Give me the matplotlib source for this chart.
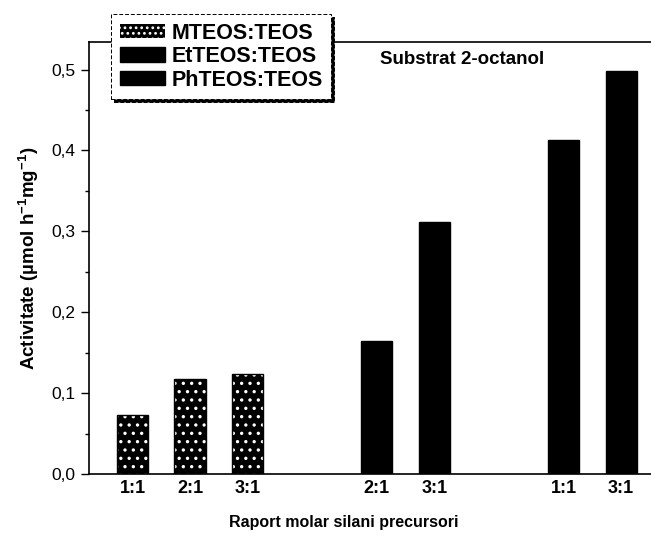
import matplotlib
matplotlib.use("Agg")
import matplotlib.pyplot as plt
from matplotlib.patches import Patch
from matplotlib.ticker import MultipleLocator, FuncFormatter

plt.rcParams["font.family"] = ["Liberation Sans", "DejaVu Sans"]
plt.rcParams["mathtext.fontset"] = "custom"
plt.rcParams["mathtext.rm"] = "Liberation Sans"
plt.rcParams["mathtext.bf"] = "Liberation Sans:bold"
plt.rcParams["mathtext.it"] = "Liberation Sans:italic"
plt.rcParams["hatch.linewidth"] = 1.2

# Activity per precursor system and silane molar ratio
mteos_ratios = ["1:1", "2:1", "3:1"]
mteos_activity = [0.073, 0.117, 0.124]

etteos_ratios = ["2:1", "3:1"]
etteos_activity = [0.165, 0.312]

phteos_ratios = ["1:1", "3:1"]
phteos_activity = [0.413, 0.498]

series_names = ["MTEOS:TEOS", "EtTEOS:TEOS", "PhTEOS:TEOS"]

groups = [
    (mteos_ratios, mteos_activity, "speckle"),
    (etteos_ratios, etteos_activity, "solid"),
    (phteos_ratios, phteos_activity, "solid"),
]

W, H = 651, 537
fig = plt.figure(figsize=(W / 100, H / 100), dpi=100)

ax_left, ax_bottom, ax_top = 89 / W, (H - 474) / H, (H - 42) / H
ax = fig.add_axes([ax_left, ax_bottom, 1.0 - ax_left, ax_top - ax_bottom])

bar_width = 0.54
group_step = 2.25  # distance between last bar of a group and first of the next

positions, labels = [], []
start = 0.0
for ratios, values, style in groups:
    xs = [start + i for i in range(len(values))]
    if style == "speckle":
        ax.bar(xs, values, width=bar_width, color="black", edgecolor="white",
               hatch="..", linewidth=0, zorder=2)
        ax.bar(xs, values, width=bar_width, fill=False, edgecolor="black",
               linewidth=1.0, zorder=3)
    else:
        ax.bar(xs, values, width=bar_width, color="black", edgecolor="black",
               linewidth=1.0, zorder=2)
    positions += xs
    labels += ratios
    start = xs[-1] + group_step

ax.set_xlim(-0.757, 9.02)
ax.set_ylim(0, 0.534)

ax.set_xticks(positions)
ax.set_xticklabels(labels, fontsize=13, fontweight="bold")
ax.tick_params(axis="x", length=0, pad=4)

ax.yaxis.set_major_locator(MultipleLocator(0.1))
ax.yaxis.set_minor_locator(MultipleLocator(0.05))
ax.yaxis.set_major_formatter(FuncFormatter(lambda v, p: f"{v:.1f}".replace(".", ",")))
ax.tick_params(axis="y", which="major", length=5.5, width=1.0, labelsize=12.5, pad=4)
ax.tick_params(axis="y", which="minor", length=3, width=1.0)

for side in ("left", "top", "bottom"):
    ax.spines[side].set_linewidth(1.2)
ax.spines["right"].set_visible(False)

ax.set_ylabel("Activitate (µmol h$^{\\mathbf{-1}}$mg$^{\\mathbf{-1}}$)",
              fontsize=13.5, fontweight="bold", labelpad=8)
fig.text(344 / W, 1 - 522 / H, "Raport molar silani precursori",
         ha="center", va="center", fontsize=11.5, fontweight="bold")

ax.text(380 / W, 1 - 60 / H, "Substrat 2-octanol", transform=fig.transFigure,
        ha="left", va="center", fontsize=13.5, fontweight="bold")

handles = [
    Patch(facecolor="black", edgecolor="white", hatch="...", linewidth=0),
    Patch(facecolor="black", edgecolor="black"),
    Patch(facecolor="black", edgecolor="black"),
]
leg = fig.legend(handles, series_names, loc="upper left",
                 bbox_to_anchor=(111 / W, 1 - 14 / H), borderaxespad=0,
                 prop={"size": 15.5, "weight": "bold"}, handlelength=2.1,
                 handleheight=0.65, handletextpad=0.3, labelspacing=0.12,
                 borderpad=0.4, fancybox=False, framealpha=1,
                 shadow={"color": "black", "alpha": 1})
frame = leg.get_frame()
frame.set_edgecolor("black")
frame.set_linestyle((0, (4, 2)))
frame.set_linewidth(0.7)

fig.savefig("out.png", dpi=100)
